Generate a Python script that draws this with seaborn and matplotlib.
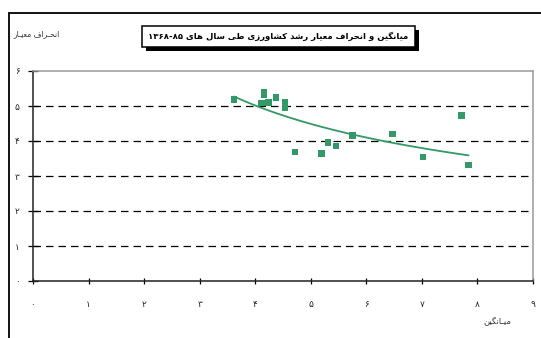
import numpy as np
import pandas as pd
import matplotlib
matplotlib.use("Agg")
import matplotlib.pyplot as plt
import matplotlib.patches as mpatches
import matplotlib.lines as mlines
import seaborn as sns
import re

# ---------------- data ----------------
mean_growth = [3.62, 4.16, 4.16, 4.11, 4.24, 4.37, 4.54, 4.54, 4.72, 5.19,
               5.31, 5.45, 5.75, 6.47, 7.02, 7.71, 7.84]
std_growth = [5.18, 5.38, 5.33, 5.09, 5.10, 5.25, 5.10, 4.94, 3.69, 3.65,
              3.95, 3.86, 4.16, 4.20, 3.54, 4.73, 3.32]
x_ticks = [0, 1, 2, 3, 4, 5, 6, 7, 8, 9]
y_ticks = [0, 1, 2, 3, 4, 5, 6]
title_text = "میانگین و انحراف معیار رشد کشاورزی طی سال های ۸۵-۱۳۶۸"
x_label_text = "میـانگین"
y_label_text = "انحـراف معیـار"

# ---------------- minimal Persian shaping ----------------
FORMS = {  # isolated, final, initial, medial
    'ا': ('\uFE8D', '\uFE8E', None, None),
    'ب': ('\uFE8F', '\uFE90', '\uFE91', '\uFE92'),
    'ت': ('\uFE95', '\uFE96', '\uFE97', '\uFE98'),
    'ح': ('\uFEA1', '\uFEA2', '\uFEA3', '\uFEA4'),
    'د': ('\uFEA9', '\uFEAA', None, None),
    'ر': ('\uFEAD', '\uFEAE', None, None),
    'ز': ('\uFEAF', '\uFEB0', None, None),
    'س': ('\uFEB1', '\uFEB2', '\uFEB3', '\uFEB4'),
    'ش': ('\uFEB5', '\uFEB6', '\uFEB7', '\uFEB8'),
    'ط': ('\uFEC1', '\uFEC2', '\uFEC3', '\uFEC4'),
    'ع': ('\uFEC9', '\uFECA', '\uFECB', '\uFECC'),
    'ف': ('\uFED1', '\uFED2', '\uFED3', '\uFED4'),
    'ل': ('\uFEDD', '\uFEDE', '\uFEDF', '\uFEE0'),
    'م': ('\uFEE1', '\uFEE2', '\uFEE3', '\uFEE4'),
    'ن': ('\uFEE5', '\uFEE6', '\uFEE7', '\uFEE8'),
    'ه': ('\uFEE9', '\uFEEA', '\uFEEB', '\uFEEC'),
    'و': ('\uFEED', '\uFEEE', None, None),
    'ک': ('\uFB8E', '\uFB8F', '\uFB90', '\uFB91'),
    'گ': ('\uFB92', '\uFB93', '\uFB94', '\uFB95'),
    'ی': ('\uFBFC', '\uFBFD', '\uFBFE', '\uFBFF'),
}
TATWEEL = '\u0640'


def joins_next(c):
    if c == TATWEEL:
        return True
    return c in FORMS and FORMS[c][2] is not None


def joins_prev(c):
    return c == TATWEEL or c in FORMS


def fa(text):
    out = []
    n = len(text)
    for i, c in enumerate(text):
        if c not in FORMS:
            out.append(c)
            continue
        prev_ok = i > 0 and joins_next(text[i - 1])
        next_ok = FORMS[c][2] is not None and i + 1 < n and joins_prev(text[i + 1])
        iso, fin, ini, med = FORMS[c]
        if prev_ok and next_ok:
            out.append(med)
        elif prev_ok:
            out.append(fin)
        elif next_ok:
            out.append(ini)
        else:
            out.append(iso)
    vis = ''.join(out)[::-1]
    vis = re.sub(r'[۰-۹0-9]+', lambda m: m.group(0)[::-1], vis)
    return vis


def pdigits(v):
    return ''.join('۰۱۲۳۴۵۶۷۸۹'[int(d)] for d in str(v))


# ---------------- figure ----------------
sns.set_theme(style="white")
plt.rcParams['font.family'] = ['DejaVu Sans']

W, H = 541, 338
fig = plt.figure(figsize=(W / 100, H / 100), dpi=100)


def fx(px):
    return px / W


def fy(py):
    return 1 - py / H


ax = fig.add_axes([fx(33), fy(281), fx(533) - fx(33), fy(71) - fy(281)])

df = pd.DataFrame({"mean": mean_growth, "std": std_growth})

# power trend line (least squares on log-log, as spreadsheet trendline)
b, log_a = np.polyfit(np.log(df["mean"]), np.log(df["std"]), 1)
xs = np.linspace(df["mean"].min(), df["mean"].max(), 100)
trend = pd.DataFrame({"mean": xs, "std": np.exp(log_a) * xs ** b})

green = "#339966"
for yv in y_ticks[1:-1]:
    ax.axhline(yv, color="black", lw=0.9, dashes=(6, 4), zorder=1)

sns.lineplot(data=trend, x="mean", y="std", color=green, lw=1.3, ax=ax, zorder=3)
sns.scatterplot(data=df, x="mean", y="std", marker="s", s=22, color=green,
                edgecolor="none", linewidth=0, ax=ax, zorder=4)

ax.set_xlim(x_ticks[0], x_ticks[-1])
ax.set_ylim(y_ticks[0], y_ticks[-1])
ax.set_xticks(x_ticks)
ax.set_yticks(y_ticks)
ax.set_xticklabels([pdigits(v) for v in x_ticks], fontsize=6.5)
ax.set_yticklabels([pdigits(v) for v in y_ticks], fontsize=6.5)
ax.set_xlabel("")
ax.set_ylabel("")
ax.tick_params(axis="x", direction="inout", length=5, width=0.9, pad=11,
               color="black", bottom=True)
ax.tick_params(axis="y", direction="inout", length=7, width=0.9, pad=6,
               color="black", left=True)
for s in ["left", "bottom"]:
    ax.spines[s].set_color("#222222")
    ax.spines[s].set_linewidth(1.1)
for s in ["top", "right"]:
    ax.spines[s].set_color("#9a9a9a")
    ax.spines[s].set_linewidth(1.1)
ax.grid(False)

# outer frame (top and left edges)
fig.add_artist(mlines.Line2D([fx(9), 1], [fy(13), fy(13)], color="black", lw=1.3,
                             transform=fig.transFigure))
fig.add_artist(mlines.Line2D([fx(9), fx(9)], [fy(13), 0], color="black", lw=1.3,
                             transform=fig.transFigure))

# title box with shadow
bx0, bx1, by0, by1 = 141.5, 415, 26, 46.5
fig.add_artist(mpatches.Rectangle((fx(bx0 + 4), fy(by1 + 4)), fx(bx1 - bx0), fy(by0) - fy(by1),
                                  transform=fig.transFigure, facecolor="black",
                                  edgecolor="none"))
fig.add_artist(mpatches.Rectangle((fx(bx0), fy(by1)), fx(bx1 - bx0), fy(by0) - fy(by1),
                                  transform=fig.transFigure, facecolor="white",
                                  edgecolor="black", lw=1.1))
fig.text(fx((bx0 + bx1) / 2), fy((by0 + by1) / 2), fa(title_text), ha="center",
         va="center", fontsize=6.1, fontweight="bold", color="black")

fig.text(fx(13), fy(34), fa(y_label_text), ha="left", va="center", fontsize=5.5,
         color="#333333")
fig.text(fx(497), fy(322), fa(x_label_text), ha="center", va="center", fontsize=6,
         color="#333333")

fig.savefig("out.png", dpi=100)
